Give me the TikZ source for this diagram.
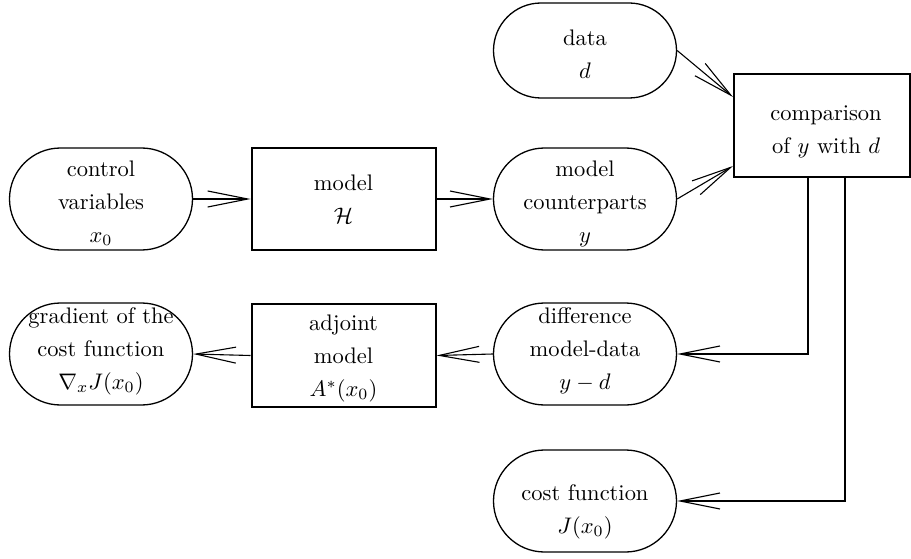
\documentclass[tikz,border=0pt]{standalone}
\usepackage{graphicx}
\usetikzlibrary{arrows.meta}
\newcommand{\TX}[1]{\scalebox{2.25}{\renewcommand{\arraystretch}{1.222}\begin{tabular}{@{}c@{}}#1\end{tabular}}}
\tikzset{
  stad/.style={draw, line width=1.3pt, minimum width=183pt, minimum height=102pt, rounded corners=51pt, inner sep=0pt},
  boxnode/.style={draw, line width=2pt, minimum width=184pt, minimum height=102pt, inner sep=0pt},
  txt/.style={inner sep=0pt},
  arr/.style={line width=1.1pt, -{Straight Barb[length=40pt,width=16pt,line width=1.1pt]}}
}
\begin{document}
\begin{tikzpicture}[x=1pt,y=-1pt]
\useasboundingbox (0,0) rectangle (911,559);
% shapes
\node[stad, minimum height=95pt, rounded corners=47.5pt] (data) at (585,50.5) {};
\node[stad] (cv) at (101,199) {};
\node[boxnode] (model) at (343.5,199) {};
\node[stad] (mc) at (585,199) {};
\node[boxnode, minimum width=176pt, minimum height=103.5pt] (comp) at (822,125.5) {};
\node[stad] (grad) at (101,354) {};
\node[boxnode, minimum height=103pt] (adj) at (343.5,355.5) {};
\node[stad] (diff) at (585,354) {};
\node[stad] (cost) at (585,501) {};
% texts
\node[txt] (datat) at (585,55) {\TX{data\\$d$}};
\node[txt] (cvt) at (101,203) {\TX{control\\variables\\$x_0$}};
\node[txt] (modelt) at (343.5,200) {\TX{model\\$\mathcal{H}$}};
\node[txt] (mct) at (585,203) {\TX{model\\counterparts\\$y$}};
\node[txt] (compt) at (826,130) {\TX{comparison\\of $y$ with $d$}};
\node[txt] (gradt) at (101,350) {\TX{gradient of the\\cost function\\$\nabla_x J(x_0)$}};
\node[txt] (adjt) at (343.5,357) {\TX{adjoint\\model\\$A^*(x_0)$}};
\node[txt] (difft) at (585,350) {\TX{difference\\model-data\\$y-d$}};
\node[txt] (costt) at (585,510) {\TX{cost function\\$J(x_0)$}};
% connectors
\draw[arr] (cv.east) -- (model.west);
\draw[arr] (model.east) -- (mc.west);
\draw[arr] (data.east) -- ([yshift=28.5pt]comp.west);
\draw[arr] (mc.east) -- ([yshift=-40.5pt]comp.west);
\draw[arr] ([xshift=-14pt]comp.south) |- (diff.east);
\draw[arr] ([xshift=23pt]comp.south) |- (cost.east);
\draw[arr] (diff.west) -- (adj.east);
\draw[arr] (adj.west) -- (grad.east);
\end{tikzpicture}
\end{document}
